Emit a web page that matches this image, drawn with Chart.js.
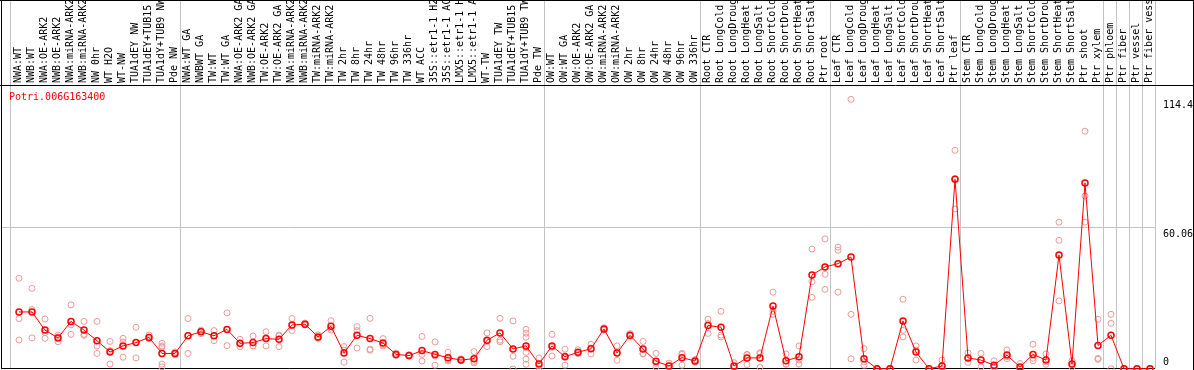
<!DOCTYPE html>
<html>
<head>
<meta charset="utf-8">
<script src="https://cdn.jsdelivr.net/npm/chart.js@4"></script>
<style>
  html, body { margin: 0; padding: 0; background: #fff; }
  canvas { display: block; }
</style>
</head>
<body>
<canvas id="expr-chart" width="1194" height="370"></canvas>
<script>
const exprCanvas = document.getElementById('expr-chart');

// gene shown in the plot
const geneName = 'Potri.006G163400';

// sample names, left to right
const sampleNames = [
    'NWA:WT', 'NWB:WT', 'NWA:OE-ARK2', 'NWB:OE-ARK2', 'NWA:miRNA-ARK2', 'NWB:miRNA-ARK2',
    'NW 0hr', 'WT H2O', 'WT-NW', 'TUA1dEY NW', 'TUA1dEY+TUB15 NW', 'TUA1dY+TUB9 NW', 'Pde NW',
    'NWA:WT GA', 'NWBWT GA', 'TW:WT', 'TW:WT GA', 'NWA:OE-ARK2 GA', 'NWB:OE-ARK2 GA',
    'TW:OE-ARK2', 'TW:OE-ARK2 GA', 'NWA:miRNA-ARK2', 'NWB:miRNA-ARK2', 'TW:miRNA-ARK2',
    'TW:miRNA-ARK2 GA', 'TW 2hr', 'TW 8hr', 'TW 24hr', 'TW 48hr', 'TW 96hr', 'TW 336hr',
    'WT ACC', '35S::etr1-1 H2O', '35S::etr1-1 ACC', 'LMX5::etr1-1 H2O', 'LMX5::etr1-1 ACC',
    'WT-TW', 'TUA1dEY TW', 'TUA1dEY+TUB15 TW', 'TUA1dY+TUB9 TW', 'Pde TW',
    'OW:WT', 'OW:WT GA', 'OW:OE-ARK2', 'OW:OE-ARK2 GA', 'OW:miRNA-ARK2', 'OW:miRNA-ARK2 GA',
    'OW 2hr', 'OW 8hr', 'OW 24hr', 'OW 48hr', 'OW 96hr', 'OW 336hr',
    'Root CTR', 'Root LongCold', 'Root LongDrought', 'Root LongHeat', 'Root LongSalt',
    'Root ShortCold', 'Root ShortDrought', 'Root ShortHeat', 'Root ShortSalt', 'Ptr root',
    'Leaf CTR', 'Leaf LongCold', 'Leaf LongDrought', 'Leaf LongHeat', 'Leaf LongSalt',
    'Leaf ShortCold', 'Leaf ShortDrought', 'Leaf ShortHeat', 'Leaf ShortSalt', 'Ptr leaf',
    'Stem CTR', 'Stem LongCold', 'Stem LongDrought', 'Stem LongHeat', 'Stem LongSalt',
    'Stem ShortCold', 'Stem ShortDrought', 'Stem ShortHeat', 'Stem ShortSalt', 'Ptr shoot',
    'Ptr xylem', 'Ptr phloem', 'Ptr fiber', 'Ptr vessel', 'Ptr fiber vessel'
];

// index where each group of samples starts (last = end)
const groupStarts = [0, 13, 41, 53, 63, 73, 84, 85, 86, 87, 88];

// mean expression per sample
const meanValues = [
    24.2, 24.2, 16.5, 13.2, 20.2, 16.5, 12.0, 7.2, 9.8, 11.2, 13.4, 6.6, 6.6,
    14.1, 15.8, 14.1, 16.8, 10.9, 11.2, 12.9, 12.6, 18.7, 19.0, 13.6, 18.1, 6.8, 14.3,
    12.9, 11.0, 6.2, 5.7, 7.8, 6.2, 4.8, 3.8, 4.4, 12.2, 15.3, 8.5, 9.8, 2.1,
    9.8, 5.2, 7.1, 8.6, 17.0, 6.8, 14.3, 8.5, 3.3, 1.3, 4.8, 3.4,
    18.5, 17.7, 1.3, 4.7, 4.7, 26.7, 3.5, 5.2, 39.9, 43.3,
    44.7, 47.5, 4.4, 0.1, 0.1, 20.4, 7.2, 0.1, 1.3, 80.5,
    4.7, 3.8, 1.6, 5.9, 0.8, 6.2, 3.8, 48.4, 2.1, 78.9, 10.0,
    14.3, 0.1, 0.1, 0.1
];

// single replicates per sample
const repValues = [
    [38.5, 21.4, 12.3], [34.2, 25.2, 13.2], [21.2, 15.4, 13.0], [14.4, 13.6, 11.6],
    [27.2, 18.7, 14.7], [20.2, 14.7, 14.3], [20.2, 9.8, 6.6], [11.7, 7.8, 2.1],
    [13.0, 11.4, 5.0], [17.7, 11.2, 4.7], [14.4, 13.6, 12.8], [10.9, 9.8, 9.3, 2.1, 0.9],
    [7.2, 6.6, 6.0],
    [21.4, 14.3, 6.6], [16.5, 16.0, 15.0], [16.3, 14.0, 12.0], [23.8, 16.7, 9.9],
    [12.6, 10.6, 9.5], [14.0, 9.8, 9.8], [15.8, 13.1, 9.8], [14.4, 14.0, 9.5],
    [21.4, 18.4, 16.3], [19.5, 18.8, 18.7], [14.5, 13.3, 13.0], [20.5, 17.3, 16.5],
    [9.5, 8.0, 2.9], [18.0, 16.3, 8.9], [21.5, 8.4, 8.0], [12.9, 10.3, 9.8],
    [6.8, 6.0, 5.8], [6.0, 5.6, 5.5], [13.8, 6.2, 3.4], [11.5, 5.5, 1.6],
    [7.1, 3.9, 3.4], [4.3, 3.6, 3.5], [7.4, 3.2, 2.6], [15.3, 11.8, 9.5],
    [21.5, 12.2, 11.5], [20.4, 5.4, 0.0], [16.8, 15.2, 13.5, 9.0, 7.0, 4.2, 2.0],
    [4.7, 1.3, 0.3],
    [14.7, 9.2, 5.5], [8.4, 5.6, 1.6], [8.2, 6.6, 6.5], [10.5, 8.9, 6.4],
    [17.5, 17.0, 16.5], [9.8, 6.9, 3.7], [15.0, 14.0, 13.9], [11.7, 6.6, 6.4],
    [6.6, 2.4, 0.9], [2.5, 1.4, 0.0], [6.6, 6.2, 1.6], [4.0, 3.3, 2.9],
    [21.1, 19.3, 15.1], [24.5, 14.4, 13.6], [2.7, 0.9, 0.3], [6.2, 6.0, 1.9],
    [6.9, 6.5, 0.7], [32.6, 24.5, 23.2], [6.4, 2.1, 2.0], [9.8, 3.8, 2.1],
    [50.9, 37.1, 30.4], [55.2, 40.2, 33.8],
    [51.7, 50.4, 32.6], [114.4, 23.2, 4.3], [8.6, 3.0, 1.6], [0.2, 0.1, 0.0],
    [0.2, 0.1, 0.0], [29.6, 16.4, 13.6], [9.8, 8.0, 3.8], [0.1, 0.1, 0.0],
    [3.8, 0.0, 0.0], [92.8, 80.8, 67.9],
    [6.8, 4.5, 2.8], [6.6, 3.9, 0.9], [3.5, 0.7, 0.6], [8.1, 5.2, 4.4],
    [2.3, 0.0, 0.0], [10.5, 4.6, 3.5], [6.4, 3.0, 2.0], [62.3, 54.6, 28.9],
    [3.5, 1.9, 0.9], [100.9, 73.4, 62.3], [21.1, 4.5, 4.1],
    [23.2, 19.4, 0.1], [0.1, 0.1, 0.1], [0.1, 0.1, 0.1], [0.1, 0.1, 0.1]
];

// right axis labels
const yTickValues = [0, 60.06, 114.4];
const yMax = 120.5;

const sepColor = '#c4c4c4';
const monoFont = { family: 'DejaVu Sans Mono', size: 10 };

// group separators sit a bit left of the first sample of the group
const sepShift = 8 / 13;
const sepValues = groupStarts.map(s => s - sepShift);
const xTickValues = sampleNames.map((n, i) => i).concat(sepValues);

const meanPoints = meanValues.map((v, i) => ({ x: i, y: v }));
const repPoints = [];
repValues.forEach((list, i) => {
    list.forEach(v => repPoints.push({ x: i, y: v }));
});

function isSep(value) {
    return !Number.isInteger(value);
}

// no extra room for labels hanging over the axis ends
function noOverhang(scale) {
    scale.paddingLeft = 0;
    scale.paddingRight = 0;
    scale.paddingTop = 0;
    scale.paddingBottom = 0;
}

// white background, frame lines and the gene name
const framePlugin = {
    id: 'frame',
    beforeDraw(chart) {
        const ctx = chart.ctx;
        ctx.save();
        ctx.fillStyle = '#fff';
        ctx.fillRect(0, 0, chart.width, chart.height);
        ctx.restore();
    },
    beforeDatasetsDraw(chart) {
        const { ctx, chartArea } = chart;
        ctx.save();
        ctx.strokeStyle = '#000';
        ctx.lineWidth = 1;
        ctx.beginPath();
        ctx.moveTo(0, 0.5);
        ctx.lineTo(chart.width, 0.5);
        ctx.moveTo(chart.width - 0.5, 0);
        ctx.lineTo(chart.width - 0.5, chart.height);
        ctx.moveTo(1.5, 0);
        ctx.lineTo(1.5, chartArea.bottom);
        ctx.moveTo(0, chartArea.top + 0.5);
        ctx.lineTo(chart.width, chartArea.top + 0.5);
        ctx.moveTo(1, chartArea.bottom - 0.5);
        ctx.lineTo(chartArea.right, chartArea.bottom - 0.5);
        ctx.stroke();

        ctx.fillStyle = '#ff0000';
        ctx.font = '10px "DejaVu Sans Mono"';
        ctx.textBaseline = 'top';
        ctx.fillText(geneName, 9, chartArea.top + 7);
        ctx.restore();
    }
};

let exprChart = new Chart(exprCanvas, {
    type: 'scatter',
    data: {
        datasets: [{
            data: meanPoints,
            showLine: true,
            borderColor: '#ff0000',
            borderWidth: 1,
            pointRadius: 3,
            pointBorderWidth: 1.5,
            pointBorderColor: '#ff0000',
            pointBackgroundColor: 'rgba(0,0,0,0)',
            clip: false
        }, {
            data: repPoints,
            pointRadius: 3,
            pointBorderWidth: 1,
            borderColor: '#ee9a9a',
            backgroundColor: 'rgba(0,0,0,0)',
            clip: false
        }]
    },
    options: {
        responsive: false,
        animation: false,
        devicePixelRatio: 1,
        layout: {
            autoPadding: false,
            padding: { left: 1, right: 0, top: 0, bottom: 1 }
        },
        scales: {
            x: {
                type: 'linear',
                position: 'top',
                min: -18 / 13,
                max: 87 + 5 / 13,
                afterBuildTicks: scale => {
                    scale.ticks = xTickValues.map(v => ({ value: v }));
                },
                afterFit: scale => {
                    scale.height = 85;
                    noOverhang(scale);
                },
                border: { display: false },
                grid: {
                    color: c => (c.tick && isSep(c.tick.value)) ? sepColor : 'rgba(0,0,0,0)',
                    tickColor: c => (c.tick && isSep(c.tick.value)) ? sepColor : 'rgba(0,0,0,0)',
                    lineWidth: 1,
                    drawTicks: true,
                    tickLength: 85
                },
                ticks: {
                    autoSkip: false,
                    minRotation: 90,
                    maxRotation: 90,
                    padding: -83,
                    labelOffset: 11,
                    font: monoFont,
                    color: '#000',
                    callback: v => isSep(v) ? '' : sampleNames[v]
                }
            },
            y: {
                position: 'right',
                min: 0,
                max: yMax,
                afterBuildTicks: scale => {
                    scale.ticks = yTickValues.map(v => ({ value: v }));
                },
                afterFit: scale => {
                    scale.width = 39;
                    noOverhang(scale);
                },
                border: { display: false },
                grid: {
                    color: c => (c.tick && c.tick.value === 60.06) ? sepColor : 'rgba(0,0,0,0)',
                    drawTicks: false
                },
                ticks: {
                    padding: 8,
                    font: { family: 'DejaVu Sans Mono', size: 10, lineHeight: 1.3 },
                    color: '#000',
                    // empty line pushes the label below / above its value
                    callback: v => v === 0 ? ['0', ''] : ['', String(v)]
                }
            }
        },
        plugins: {
            legend: { display: false },
            tooltip: { enabled: false }
        }
    },
    plugins: [framePlugin]
});
</script>
</body>
</html>
